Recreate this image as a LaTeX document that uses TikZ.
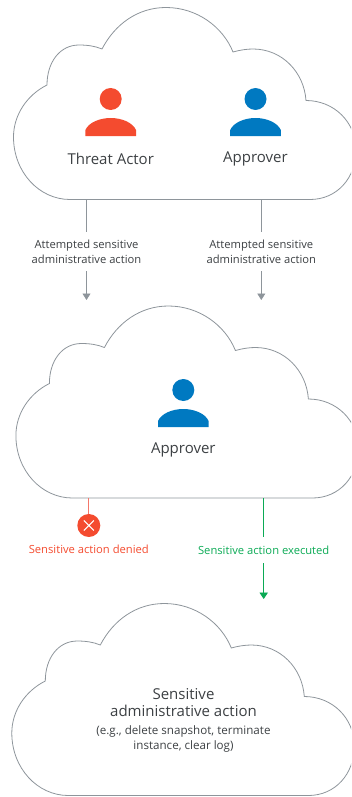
\documentclass[tikz,border=0pt]{standalone}
\usepackage{fontspec}
\setmainfont{Open Sans}
\usetikzlibrary{arrows.meta}
\definecolor{cloudgray}{HTML}{8E959B}
\definecolor{inktext}{HTML}{3C4043}
\definecolor{threatred}{HTML}{F44B2F}
\definecolor{deniedline}{HTML}{F4776A}
\definecolor{approverblue}{HTML}{0079C1}
\definecolor{okgreen}{HTML}{0BAA55}
\newcommand{\cloudoutline}[3]{%
  \draw[cloudline,shift={(#1,#2)}] (70,199.5)
    .. controls (39,199.5) and (13.5,172) .. (13.5,137)
    .. controls (13.5,115) and (27,95) .. (47,85)
    .. controls (47,62) and (60,45) .. (79,45)
    .. controls (87,45) and (95,46) .. (102,49)
    .. controls (115,24) and (138,7.5) .. (166,7.5)
    .. controls (197,7.5) and (223,27) .. (233,52)
    .. controls (240,50) and (247,49) .. (253,49)
    .. controls (282,49) and (304,72) .. (306,100.5)
    .. controls (334,100.5) and (356,122) .. (356,150)
    .. controls (356,178) and (337,199.5) .. (310,199.5) -- cycle
    (86.5,199.5) coordinate (#3a) (261.3,199.5) coordinate (#3b);%
}
\newcommand{\personicon}[3]{%
  \fill[#3] (#1,#2) circle[radius=11];
  \fill[#3] (#1-25.3,#2+37) -- (#1-25.3,#2+31)
    .. controls (#1-22,#2+23.5) and (#1-11,#2+19) .. (#1,#2+19)
    .. controls (#1+11,#2+19) and (#1+22,#2+23.5) .. (#1+25.3,#2+31)
    -- (#1+25.3,#2+37) -- cycle;%
}
\tikzset{
  cloudline/.style={draw=cloudgray,line width=0.8pt},
  graylink/.style={draw=cloudgray,line width=0.9pt},
  grayarrow/.style={graylink,-{Triangle[width=8pt,length=6.5pt]}},
  redlink/.style={draw=deniedline,line width=1pt},
  greenlink/.style={draw=okgreen,line width=0.9pt},
  greenarrow/.style={greenlink,-{Triangle[width=8.5pt,length=6.5pt]}},
  roletext/.style={text=inktext,font=\fontsize{15}{18}\selectfont,inner sep=0pt},
  smalllabel/.style={text=inktext,font=\fontsize{11.2}{15}\selectfont,align=center,inner sep=0pt,minimum height=39pt},
  outcome/.style={font=\fontsize{11.2}{14}\selectfont,inner sep=0pt,minimum height=26pt},
  maintitle/.style={text=inktext,font=\fontsize{15}{17}\selectfont,align=center,inner sep=0pt},
  subtitle/.style={text=inktext,font=\fontsize{11.6}{15}\selectfont,align=center,inner sep=0pt},
}
\begin{document}
\begin{tikzpicture}[x=1pt,y=-1pt]
\useasboundingbox (0,0) rectangle (351,797);
\clip (0,0) rectangle (351,797);
\cloudoutline{0}{0}{one}
\cloudoutline{2.4}{298.5}{two}
\cloudoutline{-1.7}{596}{three}
\coordinate (redtop) at (88.8,498);
\coordinate (greentop) at (263.7,498);
\coordinate (tipa) at (86.5,300);
\coordinate (tipb) at (261.3,300);
\coordinate (tipc) at (263.7,599);

\personicon{110.7}{99}{threatred}
\personicon{255.5}{99}{approverblue}
\personicon{183.3}{390}{approverblue}

\node[roletext] (threat) at (110.7,159) {Threat Actor};
\node[roletext] (approverA) at (255.5,159) {Approver};
\node[roletext] (approverB) at (183.3,450) {Approver};

\node[smalllabel] (labA) at (86.5,251.5) {Attempted sensitive\\administrative action};
\node[smalllabel] (labB) at (261.3,251.5) {Attempted sensitive\\administrative action};
\draw[graylink] (onea) -- (labA.north);
\draw[graylink] (oneb) -- (labB.north);
\draw[grayarrow] (labA.south) -- (tipa);
\draw[grayarrow] (labB.south) -- (tipb);

\node[circle,fill=threatred,minimum size=23pt,inner sep=0pt] (deny) at (88.8,525.5) {};
\draw[redlink] (redtop) -- (deny.north);
\draw[white,line width=1.1pt] (deny.center) ++(-5,-5) -- ++(10,10) (deny.center) ++(5,-5) -- ++(-10,10);
\node[outcome,text=threatred] (denied) at (88.8,549) {Sensitive action denied};
\node[outcome,text=okgreen] (executed) at (263.7,550) {Sensitive action executed};
\draw[greenlink] (greentop) -- (executed.north);
\draw[greenarrow] (executed.south) -- (tipc);

\node[maintitle] (sens) at (183.5,702.5) {Sensitive\\administrative action};
\node[subtitle] (eg) at (183.5,738.5) {(e.g., delete snapshot, terminate\\instance, clear log)};
\end{tikzpicture}
\end{document}
